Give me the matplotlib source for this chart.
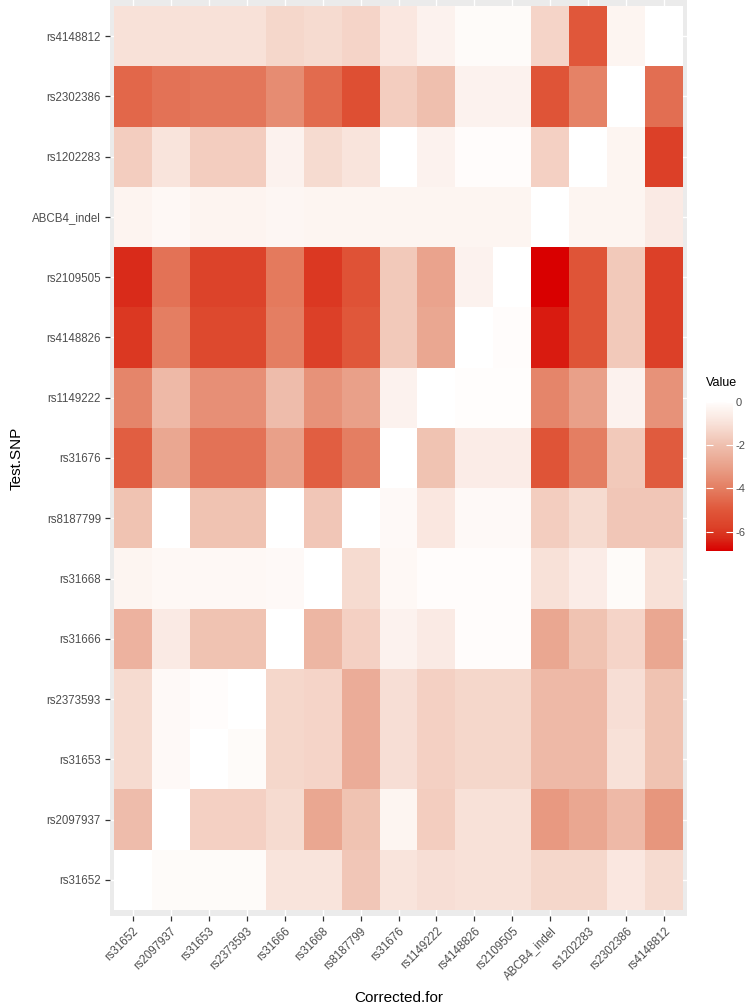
import numpy as np
import matplotlib
matplotlib.use("Agg")
import matplotlib.pyplot as plt
from matplotlib.colors import LinearSegmentedColormap, Normalize

plt.rcParams['font.family'] = ['Liberation Sans', 'DejaVu Sans']

corrected_for = ["rs31652", "rs2097937", "rs31653", "rs2373593", "rs31666", "rs31668",
                 "rs8187799", "rs31676", "rs1149222", "rs4148826", "rs2109505",
                 "ABCB4_indel", "rs1202283", "rs2302386", "rs4148812"]
test_snp = ["rs4148812", "rs2302386", "rs1202283", "ABCB4_indel", "rs2109505",
            "rs4148826", "rs1149222", "rs31676", "rs8187799", "rs31668", "rs31666",
            "rs2373593", "rs31653", "rs2097937", "rs31652"]

nan = np.nan
# rows in test_snp order (top to bottom), columns in corrected_for order
row_rs4148812 = [-1.0, -1.0, -1.0, -1.0, -1.3, -1.2, -1.4, -0.8, -0.4, -0.1, -0.1, -1.4, -5.0, -0.3, nan]
row_rs2302386 = [-4.6, -4.3, -4.2, -4.2, -3.6, -4.5, -5.3, -1.6, -2.0, -0.4, -0.4, -5.1, -3.9, nan, -4.4]
row_rs1202283 = [-1.6, -0.9, -1.6, -1.6, -0.4, -1.2, -0.9, nan, -0.4, -0.05, -0.05, -1.5, nan, -0.3, -5.8]
row_abcb4 = [-0.35, -0.2, -0.35, -0.35, -0.25, -0.3, -0.3, -0.3, -0.3, -0.3, -0.3, nan, -0.3, -0.3, -0.7]
row_rs2109505 = [-6.3, -4.3, -5.7, -5.7, -4.1, -6.0, -5.2, -1.7, -2.9, -0.4, nan, -6.9, -5.1, -1.7, -5.8]
row_rs4148826 = [-6.0, -4.0, -5.5, -5.5, -4.0, -5.8, -5.0, -1.7, -2.8, nan, -0.05, -6.5, -5.1, -1.7, -5.8]
row_rs1149222 = [-3.8, -2.2, -3.5, -3.5, -2.1, -3.4, -3.0, -0.4, nan, -0.02, -0.02, -3.8, -3.0, -0.4, -3.4]
row_rs31676 = [-4.8, -2.8, -4.3, -4.3, -3.0, -4.8, -4.0, nan, -1.9, -0.6, -0.6, -5.1, -4.0, -1.7, -4.9]
row_rs8187799 = [-1.9, nan, -1.9, -1.9, nan, -1.8, nan, -0.15, -0.8, -0.15, -0.15, -1.6, -1.2, -1.8, -1.8]
row_rs31668 = [-0.3, -0.2, -0.2, -0.2, -0.15, nan, -1.2, -0.2, -0.05, -0.05, -0.05, -1.0, -0.6, -0.1, -1.0]
row_rs31666 = [-2.4, -0.7, -1.9, -1.9, nan, -2.3, -1.5, -0.4, -0.7, -0.05, -0.05, -2.8, -1.9, -1.4, -2.8]
row_rs2373593 = [-1.2, -0.15, -0.05, nan, -1.3, -1.4, -2.6, -1.1, -1.5, -1.3, -1.3, -2.2, -2.2, -1.1, -1.9]
row_rs31653 = [-1.2, -0.15, nan, -0.1, -1.3, -1.4, -2.6, -1.1, -1.5, -1.3, -1.3, -2.2, -2.2, -1.0, -1.9]
row_rs2097937 = [-2.1, nan, -1.5, -1.5, -1.2, -2.8, -1.9, -0.3, -1.6, -1.0, -1.0, -3.2, -2.8, -2.2, -3.3]
row_rs31652 = [nan, -0.1, -0.1, -0.1, -0.9, -0.9, -1.8, -0.9, -1.1, -1.0, -1.0, -1.3, -1.3, -0.8, -1.2]

values = np.array([row_rs4148812, row_rs2302386, row_rs1202283, row_abcb4, row_rs2109505,
                   row_rs4148826, row_rs1149222, row_rs31676, row_rs8187799, row_rs31668,
                   row_rs31666, row_rs2373593, row_rs31653, row_rs2097937, row_rs31652])

vmin, vmax = -6.9, 0.0
stops = [(-6.9, "#d90000"), (-6.3, "#d92b1a"), (-5.8, "#dc4128"), (-5.0, "#e0573a"),
         (-4.0, "#e47e62"), (-3.0, "#e9a089"), (-2.0, "#efbfae"), (-1.0, "#f8e1d8"),
         (0.0, "#fffdfc")]
cmap = LinearSegmentedColormap.from_list(
    "val", [((v - vmin) / (vmax - vmin), c) for v, c in stops])
cmap.set_bad("white")
norm = Normalize(vmin=vmin, vmax=vmax)

fig = plt.figure(figsize=(7.56, 10.08), dpi=100)
ax = fig.add_axes([110 / 756, 1 - 916 / 1008, 577 / 756, 916 / 1008])
ax.set_facecolor("#ebebeb")

nx, ny = len(corrected_for), len(test_snp)
xs = np.arange(nx + 1) - 0.5
ys = np.arange(ny + 1) - 0.5
mesh = ax.pcolormesh(xs, ys, np.ma.masked_invalid(values), cmap=cmap, norm=norm,
                     shading="flat", zorder=2)
ax.set_xlim(-0.6, nx - 0.4)
ax.set_ylim(ny - 0.4, -0.6)

ax.set_xticks(np.arange(nx))
ax.set_xticklabels(corrected_for, rotation=45, ha="right", va="top",
                   rotation_mode="anchor", fontsize=8.3, color="#4d4d4d")
ax.set_yticks(np.arange(ny))
ax.set_yticklabels(test_snp, fontsize=8.3, color="#4d4d4d")
ax.tick_params(axis="both", length=3.5, width=0.9, color="#333333", pad=3)
ax.grid(True, color="white", linewidth=1.0, zorder=1)
ax.set_axisbelow(True)
for s in ax.spines.values():
    s.set_visible(False)

ax.set_xlabel("Corrected.for", fontsize=11, color="black", labelpad=6)
ax.set_ylabel("Test.SNP", fontsize=11, color="black", labelpad=6)

# colorbar legend
cax = fig.add_axes([706 / 756, 1 - 551 / 1008, 27 / 756, 149 / 1008])
cb = fig.colorbar(mesh, cax=cax, ticks=[0, -2, -4, -6])
cb.outline.set_visible(False)
cax.tick_params(axis="y", direction="in", color="white", length=5, width=0.8,
                left=True, right=True, labelsize=8, labelcolor="#4d4d4d", pad=2)
cax.set_yticklabels(["0", "-2", "-4", "-6"])
fig.text(706 / 756, 1 - 383 / 1008, "Value", fontsize=9, ha="left", va="center",
         color="black")

fig.savefig("out.png", dpi=100)
